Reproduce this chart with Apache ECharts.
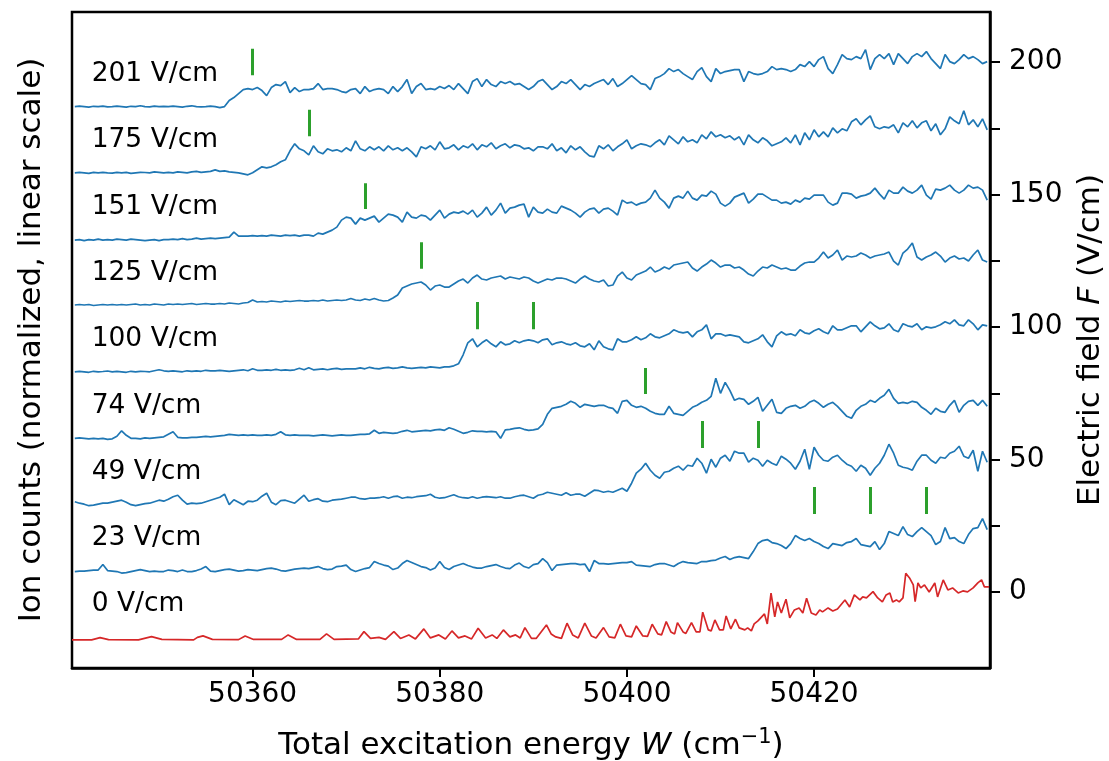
<!DOCTYPE html>
<html><head><meta charset="utf-8">
<script src="https://cdn.jsdelivr.net/npm/echarts@6/dist/echarts.min.js"></script>
<style>html,body{margin:0;padding:0;background:#fff}#c{width:1109px;height:761px}</style>
</head><body><div id="c"></div>
<script>
// ---- data ----
const W0 = 50341, DW = 0.5;              // spectrum sampling (cm^-1)
const countToField = 1 / 2.65;           // normalized ion-count unit -> V/cm offset units
const fields = [201, 175, 151, 125, 100, 74, 49, 23, 0];
const fieldLabels = ['201 V/cm','175 V/cm','151 V/cm','125 V/cm','100 V/cm','74 V/cm','49 V/cm','23 V/cm','0 V/cm'];
const baseOffsets = [183.2, 158.2, 132.8, 108.3, 83.1, 58.0, 33.5, 7.7, -18.1];
const labelW = 50342.8;
const labelF = [195.5, 170.6, 145.3, 120.4, 95.5, 70.2, 45.3, 20.4, -4.5];

const c201 = [0,0.5,0,-0.5,0.3,0,0.5,-0.3,0,0.5, 0,-0.5,0.3,0,0.8,0,-0.3,0.5,0,0.3, 0,0.5,0,-0.5,0.3,0.8,0,-0.3,0,0.5,
 0,-1,0,6,9,13,17,18,17,19, 16,11,19,22,21,25,14,19,15,17, 17,18,23,17,18,18,17,15,14,17,
 18,13,20,15,17,18,17,13,20,15, 20,27,13,20,23,17,18,17,20,18, 21,17,23,18,13,25,28,20,27,22,
 20,25,23,25,22,23,20,17,20,25, 27,22,17,20,25,23,27,22,17,22, 20,23,25,27,22,28,20,23,27,31,
 27,23,22,17,28,30,33,38,35,37, 33,30,27,35,39,30,25,38,33,35, 36,37,37,25,35,33,32,33,35,40,
 37,38,37,35,37,42,40,45,40,47, 50,38,33,42,52,48,47,50,48,57, 37,48,52,48,53,42,53,48,43,50,
 53,50,55,48,43,38,52,45,43,47, 52,48,50,47,43,45];
const c175 = [0,0.5,0,-0.5,0.5,0,0.5,0,-0.3,0.5, 0,0.5,-0.5,0,0.5,0.3,0,1,0.5,0, 0.5,0,1,0.5,0,1,1.5,0.5,1,1.5,
 3,1.5,2,1,0.5,0,-1,-2,0,3, 6,5,6,8,11,13,22,29,24,22, 18,27,21,19,24,22,23,21,25,22,
 32,24,22,26,23,26,22,27,23,25, 22,25,21,16,26,24,27,23,31,24, 25,28,23,27,25,29,23,28,26,30,
 24,27,29,25,28,27,24,25,22,26, 26,24,29,22,25,20,27,23,26,21, 17,16,27,24,28,22,26,29,33,24,
 27,29,28,26,30,33,28,37,33,29, 36,31,33,30,38,34,41,36,38,35, 37,33,36,28,38,33,30,35,32,27,
 29,31,35,30,38,28,40,33,43,36, 41,36,45,40,44,42,51,54,48,53, 57,46,44,46,45,48,40,50,46,52,
 45,50,52,42,49,38,44,56,52,49, 62,48,53,46,54,43];
const c151 = [0,0.5,-0.5,0.5,0,1,0,0.5,0,1, 0.5,0,1,0.5,0,-0.5,0,0.5,-0.5,0.5, 0.5,1,0.5,1.5,0.5,1,2,1,1.5,2,
 1.5,2,2.5,3,8,4,4,4,4.5,4, 4.5,4,5,4.5,4,5,4.5,5,4,5, 5,4,7,6,8,10,13,20,23,22,
 16,22,20,22,24,18,22,26,25,23, 18,28,23,22,25,24,20,25,30,22, 26,28,27,29,26,30,23,27,33,25,
 30,37,27,32,33,35,36,23,33,28, 27,31,28,27,34,32,30,27,23,28, 31,32,27,31,32,29,25,40,37,38,
 35,37,38,42,50,42,38,32,42,44, 42,49,42,40,45,44,49,46,37,34, 37,43,45,47,37,41,46,46,43,40,
 40,37,38,36,40,38,42,41,45,45, 45,38,35,37,47,47,46,42,44,45, 47,52,46,41,50,47,47,53,49,47,
 50,55,45,41,51,50,52,55,50,47, 50,55,52,53,50,40];
const c125 = [0,0.5,0,0.5,-0.5,0,0.5,0,0.5,0, 0.5,0,0.5,1,0,0.5,0,1,0.5,0, 1,0.5,1,0.5,1,1.5,0.5,1,1.5,1,
 1,1.5,1,2,1.5,1,2,2.5,5,3, 3.5,3,4,3.5,3,4,3.5,4,4.5,4, 4,4.5,4,5,4,4.5,5,4.5,5,6.5,
 5,4.5,6,5,6.5,5,4,4.5,7,10, 17,19,21,22,23,20,15,19,20,18, 18,21,24,26,22,27,30,26,25,27,
 28,29,26,28,27,26,28,27,24,22, 24,26,25,27,27,26,24,22,26,29, 26,24,23,25,19,20,29,33,27,25,
 30,32,34,38,33,35,38,36,40,41, 42,43,37,34,38,41,45,42,38,40, 40,37,38,35,31,29,34,38,37,40,
 38,36,37,35,35,39,42,43,43,47, 53,47,50,55,45,49,48,49,52,50, 47,49,50,51,53,44,40,52,56,62,
 48,45,48,50,53,49,43,47,49,46, 47,44,50,55,45,43];
const c100 = [0,0.5,0,-0.5,0.5,0,0.3,0.8,0,0.5, 0,-0.5,0.5,0,0.5,0.3,0,1,2,1, 0.5,1,0.5,0,1,0.5,1,0.5,1.5,1,
 1,1.5,1,0.5,1,1.5,2,1,3,1.5, 1.5,2,1.5,2.5,1.5,2,1.5,2,3.5,2, 4,2,2.5,3,2,3,3.5,2.5,3,3,
 3,4,3,4.5,3.5,3,4,4.5,3.5,4, 5,4,3.5,4,4.5,4,5,4.5,4,5, 5,6,8,17,29,33,25,29,32,28,
 25,30,27,28,31,29,31,32,31,29, 32,33,27,29,30,28,27,29,26,25, 28,22,31,25,23,22,33,30,30,32,
 35,32,34,38,35,34,36,38,42,40, 39,40,35,40,42,47,33,38,38,36, 37,36,35,30,29,31,33,37,30,25,
 36,40,37,38,36,42,39,38,41,43, 40,38,46,42,42,44,46,46,40,45, 50,46,43,44,48,42,40,48,46,45,
 48,42,45,44,45,47,50,48,52,47, 46,52,48,42,47,46];
const c74 = [0,0.5,0,-0.5,0,-0.5,0,-1,-0.5,2, 7.5,3,0,0,-0.5,0.5,0,0.5,1,1.5, 4,6.5,1,0.5,0.5,1,1,1.5,2,1.5,
 2,2.5,3,4,3.5,3,3.5,3,3.5,3, 3,3.5,3,4,6.5,3.5,3,3.5,3,3, 3,2.5,3,3.5,3,2.5,3,3.5,3,3,
 3.5,4,4,4.5,8,5,6,5.5,5,5.5, 7,8,6.5,7,7.5,8,7.5,8.5,9,8, 10.5,9,7,5,6,7.5,7,7,6.5,7,
 6.5,0,8.5,9,10,10.5,9,8,8.5,9.5, 14,24,30,31,32,34,37,35,31,34, 33,32,33,33,31,30,25,37,38,33,
 31,32,30,27,25,24,24,32,25,24, 23,27,31,33,36,38,42,60,45,56, 48,38,40,39,34,37,41,27,33,39,
 26,25,30,32,33,30,32,36,38,35, 31,34,36,32,27,22,20,28,32,34, 38,36,40,43,49,40,35,36,35,37,
 36,31,28,24,30,27,26,33,38,26, 33,37,38,33,38,32];
const c49 = [1.5,0,-1,-2.5,-2,-1,0,0,1,2, 3,1,-1.5,-2.5,-1.5,-0.5,0,1.5,3,2, 4,6.5,8,3,-1,0,-0.5,0,1.5,3,
 4.5,6,9,-1.5,3.5,1,-1.5,2,1.5,3, 7,10,1,-1.5,2.5,3,1.5,0,4,8, 2,3.5,4.5,2,1.5,3,3.5,4,5,6,
 6,4.5,4,5,5,5.5,6.5,5,6.5,7, 5,6,5.5,6.5,7,7.5,9,6,5,5.5, 7,8.5,6.5,5.5,5,6.5,5,6,6.5,6,
 5.5,6.5,5,5,6.5,7.5,8,6.5,5,8, 9,11,10,9,8,10.5,8,9,9,7, 10,13,12.5,11,12,11,13,15,12,20,
 30,34,40,33,28,25,31,32,35,37, 33,38,37,45,40,30,44,36,45,48, 42,52,50,50,41,45,43,37,43,40,
 38,47,44,40,34,42,54,34,56,48, 43,42,46,48,43,39,37,32,38,35, 28,35,40,48,59,50,38,36,35,33,
 42,48,48,43,40,46,45,50,52,57, 47,45,53,32,52,41];
const c23 = [0,0.5,0.5,1,1.5,1.5,7,1,0.5,0, -1.5,-1,0,1,2,1,0,0.5,0,0, 1.5,1,0,1.5,0,0,1,2.5,5,0.5,
 0,1,2,2.5,1.5,0.5,1,2,1.5,1, 2,3,3.5,2.5,1,0.5,1.5,2.5,3,3.5, 3,4,5,3,2,2.5,5,5.5,6.5,2,
 0,1.5,3,4,10,8,6.5,5.5,2,3.5, 8,11,9,7,5,4,1.5,3.5,10,4, 2,5,6.5,8,6,4.5,3.5,3.5,5,6,
 7,5,3.5,3,6.5,8.5,5,3.5,7,8, 13,9,1,6.5,7,7.5,8,8,7,7.5, 0,11,8,8,7.5,8,8.5,9,9,10,
 6.5,6,5.5,5,7,8,8,6.5,5,8, 10,9,8.5,8,10,10,11,11.5,13.5,15, 12,14,15,14,13,20,28,31,32,29,
 28,26,23,28,36,33,31,33,30,28, 25,23,28,27,26,29,30,33,27,26, 25,30,22,28,40,38,36,45,37,35,
 40,44,40,36,27,30,44,33,34,30, 28,37,43,44,53,42];
// zero-field spectrum: [W, counts]
const c0 = [[50340.7,0],[50342.8,0],[50343.7,2.3],[50344.6,0.3],[50347.8,0],[50349.2,3.3],[50350.3,0.5],
 [50353.7,0],[50354.1,2.5],[50354.3,1],[50354.7,4],[50355.7,0.5],[50358.5,0.3],[50359.2,4],[50360.1,0.5],
 [50363.1,0.5],[50363.8,5],[50364.7,0.5],[50367.2,0.5],[50367.9,6],[50368.7,0.5],
 [50371.3,1],[50371.9,8.3],[50372.6,1.5],[50373.5,2.5],[50374.2,0.5],[50375.1,8.3],[50375.8,1.5],
 [50376.7,5],[50377.4,1],[50378.3,11],[50379.0,2],[50379.9,5],[50380.6,1],[50381.3,9],[50382.0,2],
 [50382.7,4],[50383.4,1],[50384.1,11.7],[50384.9,2],[50385.6,5],[50386.1,1.5],[50386.8,10],[50387.5,3],
 [50388.1,5],[50388.6,2],[50389.1,12.3],[50389.8,1.5],[50390.3,1.5],[50391.4,15],[50391.9,6],[50392.4,3],
 [50393.0,1.5],[50393.6,16.7],[50394.2,5],[50394.8,2],[50395.5,16.7],[50396.2,4],[50396.7,2],[50397.5,12.3],
 [50398.1,3],[50398.7,2],[50399.3,15.7],[50399.9,4],[50400.5,3],[50401.0,14],[50401.7,4],[50402.2,3.5],
 [50402.7,15.7],[50403.3,6],[50403.7,5],[50404.2,18.3],[50404.7,8],[50405.1,6],[50405.4,17.3],[50406.0,8],
 [50406.3,6.5],[50406.9,17.3],[50407.4,8],[50407.8,8],[50408.1,27.7],[50408.7,10],[50409.0,9],[50409.4,20],
 [50409.9,10],[50410.3,10],[50410.6,24],[50411.1,11],[50411.3,10],[50411.6,20.7],[50412.0,12],[50412.6,10],
 [50412.9,12],[50413.3,9],[50413.6,16],[50414.0,19],[50414.4,23],[50414.7,26],[50415.0,16],[50415.4,46.7],
 [50415.8,23],[50416.1,38],[50416.5,27],[50417.0,40.7],[50417.4,22],[50417.9,30],[50418.4,32],[50418.8,27],
 [50419.2,41.7],[50419.7,27],[50420.2,25],[50420.6,30],[50420.9,28],[50421.5,32],[50422.0,29],[50422.5,31],
 [50423.3,40],[50423.8,33],[50424.3,45],[50424.9,40],[50425.2,43],[50425.6,42],[50426.3,48.3],[50426.8,42],
 [50427.3,38],[50427.7,45],[50428.1,47],[50428.4,38],[50428.8,40],[50429.1,38],[50429.5,42],[50429.8,66.7],
 [50430.2,62],[50430.6,55],[50430.8,38.3],[50431.1,57],[50431.4,52],[50431.8,55],[50432.3,48],[50432.9,57],
 [50433.2,43],[50433.8,60],[50434.3,50],[50434.8,52],[50435.4,47],[50435.9,49],[50436.4,48],[50437.0,52],
 [50437.5,57],[50437.9,60],[50438.2,53],[50438.7,53]];
// predicted positions (green ticks)
const markerW  = [50360, 50366, 50372, 50378, 50384, 50390, 50402, 50408, 50414, 50420, 50426, 50432];
const markerLo = [195, 172, 144.5, 122, 99.2, 99.2, 74.7, 54.3, 54.3, 29.4, 29.4, 29.4];
const markerHi = [205, 182, 154.3, 132, 109.4, 109.4, 84.5, 64.5, 64.5, 39.6, 39.6, 39.6];
const xTicks = [50360, 50380, 50400, 50420];
const yTicks = [0, 25, 50, 75, 100, 125, 150, 175, 200];
const yLabels = [0, 50, 100, 150, 200];

// ---- chart ----
const FONT = 'DejaVu Sans';
const blueCounts = [c201, c175, c151, c125, c100, c74, c49, c23];
const series = [];
blueCounts.forEach((cs, k) => {
  series.push({
    type: 'line', yAxisIndex: 0, showSymbol: false, silent: true,
    lineStyle: { color: '#1f77b4', width: 1.7 },
    data: cs.map((c, i) => [W0 + i * DW, baseOffsets[k] + c * countToField])
  });
});
series.push({
  type: 'line', yAxisIndex: 0, showSymbol: false, silent: true,
  lineStyle: { color: '#d62728', width: 1.7 },
  data: c0.map(p => [p[0], baseOffsets[8] + p[1] * countToField])
});
series.push({
  type: 'lines', coordinateSystem: 'cartesian2d', yAxisIndex: 0, silent: true,
  lineStyle: { color: '#2ca02c', width: 3, opacity: 1 },
  data: markerW.map((w, i) => ({ coords: [[w, markerLo[i]], [w, markerHi[i]]] }))
});
series.push({
  type: 'scatter', yAxisIndex: 0, symbolSize: 0, silent: true,
  itemStyle: { opacity: 1 },
  data: labelF.map((f, i) => ({ value: [labelW, f], name: fieldLabels[i] })),
  label: { show: true, position: 'right', distance: 0, formatter: p => p.name, opacity: 1,
           fontSize: 26.5, fontFamily: FONT, color: '#000000', textBorderWidth: 0 }
});

const chart = echarts.init(document.getElementById('c'), null, { renderer: 'canvas' });
chart.setOption({
  animation: false,
  backgroundColor: '#fff',
  grid: { left: 72, right: 119, top: 12, bottom: 93, outerBoundsMode: 'none', containLabel: false,
          show: true, borderColor: '#000', borderWidth: 2.5, backgroundColor: 'transparent' },
  xAxis: {
    type: 'value', min: 50340.7, max: 50438.8,
    axisLine: { show: true, onZero: false, lineStyle: { color: '#000', width: 2.5 } },
    axisTick: { show: true, length: 9, lineStyle: { color: '#000', width: 2 }, customValues: xTicks },
    axisLabel: { customValues: xTicks, formatter: v => String(v), fontSize: 28, fontFamily: FONT, color: '#000', margin: 13 },
    splitLine: { show: false },
    name: 'Total excitation energy {it|W} (cm{sup|−1})',
    nameLocation: 'middle', nameGap: 59,
    nameTextStyle: { fontSize: 31, fontFamily: FONT, color: '#000',
      rich: { it: { fontSize: 31, fontFamily: FONT, fontStyle: 'italic', color: '#000' },
              sup: { fontSize: 21, fontFamily: FONT, color: '#000', padding: [0, 0, 16, 0] } } }
  },
  yAxis: [{
    type: 'value', position: 'right', min: -28.7, max: 218.9,
    axisLine: { show: true, onZero: false, lineStyle: { color: '#000', width: 2.5 } },
    axisTick: { show: true, length: 10, lineStyle: { color: '#000', width: 2 }, customValues: yTicks },
    axisLabel: { customValues: yLabels, formatter: v => String(v), fontSize: 28, fontFamily: FONT, color: '#000', margin: 19 },
    splitLine: { show: false },
    name: 'Electric field {it|F} (V/cm)', nameLocation: 'middle', nameRotate: 90, nameGap: 85,
    nameTextStyle: { fontSize: 31, fontFamily: FONT, color: '#000',
      rich: { it: { fontSize: 31, fontFamily: FONT, fontStyle: 'italic', color: '#000' } } }
  }, {
    type: 'value', position: 'left', min: 0, max: 1,
    axisLine: { show: false }, axisTick: { show: false }, axisLabel: { show: false }, splitLine: { show: false },
    name: 'Ion counts (normalized, linear scale)', nameLocation: 'middle', nameRotate: 90, nameGap: 25,
    nameTextStyle: { fontSize: 31, fontFamily: FONT, color: '#000' }
  }],
  series
});
</script></body></html>
